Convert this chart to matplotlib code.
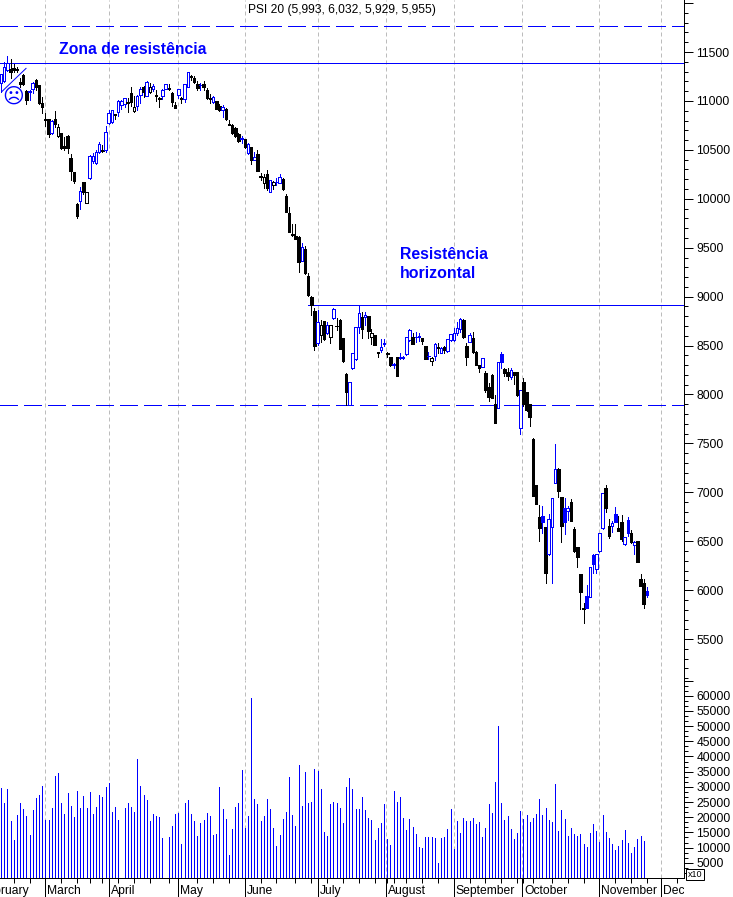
import matplotlib
matplotlib.use("Agg")
import matplotlib.pyplot as plt
from matplotlib.ticker import FixedLocator, NullFormatter

plt.rcParams["font.family"] = ["Liberation Sans", "DejaVu Sans"]

# candles
opens = [
    11186, 11207, 11316, 11322, 11333, 11322, 11196, 11264, 11104, 11094,
    11118, 11213, 11162, 10975, 10815, 10811, 10668, 10811, 10641, 10668,
    10539, 10641, 10420, 10273, 9946, 9980, 10167, 9960, 10208, 10389,
    10368, 10481, 10501, 10498, 10770, 10781, 10870, 10890, 10958, 10968,
    10992, 11081, 10893, 10951, 11060, 11146, 11054, 11095, 11122, 11058,
    11030, 11054, 11122, 11132, 11081, 10958, 11060, 11033, 11016, 11142,
    11251, 11238, 11173, 11160, 11169, 11115, 11030, 10985, 11000, 10951,
    10907, 10917, 10760, 10754, 10720, 10662, 10615, 10608, 10464, 10526,
    10396, 10458, 10230, 10158, 10253, 10073, 10137, 10168, 10165, 10206,
    10028, 9851, 9640, 9620, 9613, 9361, 9483, 9211, 9000, 8850,
    8529, 8607, 8747, 8624, 8590, 8784, 8703, 8760, 8573, 8209,
    7892, 8267, 8358, 8686, 8788, 8788, 8801, 8583, 8607, 8437,
    8454, 8518, 8424, 8379, 8300, 8379, 8369, 8370, 8410, 8556, 8583,
    8585, 8585, 8573, 8495, 8389, 8345, 8393, 8488, 8427, 8488, 8447,
    8556, 8556, 8624, 8672, 8760, 8495, 8539, 8580, 8437, 8301,
    8284, 8216, 8080, 8199, 7899, 7865, 8410, 8260, 8233, 8182,
    8226, 8226, 7654, 8131, 8022, 7899, 7545, 7074, 6751,
    6754, 6642, 6366, 6649, 7099, 7239, 6949, 6837, 6813, 6898,
    6622, 6438, 6162, 5815, 5941, 5934, 6360, 6213, 6397, 6639,
    7044, 6656, 6659, 6779, 6636, 6693, 6472, 6717, 6581, 6465,
    6503, 6111, 6070, 5993,
]
closes = [
    11275, 11343, 11384, 11299, 11316, 11320, 11169, 11169, 11009, 11104,
    11186, 11138, 10982, 10934, 10808, 10661, 10798, 10764, 10730, 10522,
    10515, 10515, 10287, 10184, 9823, 10075, 10072, 10069, 10437, 10437,
    10481, 10556, 10488, 10685, 10879, 10907, 10860, 11002, 11002, 11026,
    10975, 10985, 10934, 11054, 11122, 11088, 11197, 11142, 11156, 11050,
    11022, 11108, 11169, 11122, 10992, 10931, 11118, 11022, 11169, 11299,
    11241, 11197, 11128, 11163, 11142, 11033, 11023, 11040, 10921, 10907,
    10941, 10815, 10754, 10669, 10645, 10590, 10622, 10526, 10560, 10396,
    10424, 10287, 10220, 10219, 10107, 10192, 10168, 10175, 10219, 10100,
    9868, 9664, 9630, 9592, 9357, 9504, 9245, 9016, 8914, 8495,
    8737, 8706, 8563, 8709, 8709, 8873, 8697, 8464, 8341, 8028,
    8130, 8420, 8686, 8829, 8665, 8812, 8652, 8624, 8505, 8427,
    8490, 8522, 8414, 8301, 8310, 8192, 8379, 8382, 8583, 8658, 8519,
    8590, 8595, 8549, 8362, 8396, 8369, 8512, 8480, 8478, 8454, 8563,
    8614, 8624, 8675, 8767, 8590, 8379, 8607, 8437, 8301, 8267,
    8369, 8045, 7977, 7967, 7712, 8328, 8335, 8216, 8192, 8250,
    8199, 7994, 8042, 7899, 7841, 7773, 6965, 6884, 6631,
    6693, 6179, 6724, 6939, 7239, 7017, 6659, 6700, 6837, 6711,
    6404, 6343, 5985, 5808, 5821, 6234, 6268, 6366, 6581, 6990,
    6837, 6554, 6683, 6700, 6608, 6527, 6540, 6581, 6496, 6492,
    6291, 6043, 5862, 5955,
]
highs = [
    11275, 11401, 11459, 11425, 11377, 11343, 11230, 11271, 11111, 11111,
    11196, 11220, 11162, 11043, 10873, 10811, 10805, 10900, 10764, 10675,
    10627, 10648, 10457, 10273, 9960, 10116, 10167, 10072, 10447, 10464,
    10498, 10583, 10549, 10743, 10907, 10907, 10870, 11009, 11009, 11026,
    11026, 11139, 11054, 11060, 11142, 11156, 11203, 11183, 11176, 11108,
    11043, 11118, 11173, 11169, 11088, 10992, 11122, 11040, 11169, 11299,
    11265, 11255, 11203, 11180, 11203, 11128, 11067, 11047, 11000, 10965,
    10958, 10924, 10805, 10760, 10730, 10669, 10645, 10615, 10567, 10533,
    10478, 10499, 10267, 10253, 10294, 10196, 10178, 10209, 10253, 10216,
    10054, 9913, 9742, 9742, 9620, 9545, 9517, 9238, 9006, 8884,
    8863, 8761, 8750, 8743, 8709, 8880, 8778, 8770, 8580, 8215,
    8130, 8420, 8690, 8910, 8846, 8846, 8801, 8665, 8607, 8437,
    8563, 8570, 8430, 8386, 8318, 8386, 8420, 8390, 8590, 8665, 8624,
    8641, 8624, 8573, 8495, 8437, 8386, 8522, 8529, 8485, 8495, 8570,
    8620, 8675, 8743, 8778, 8770, 8522, 8624, 8635, 8444, 8301,
    8376, 8240, 8113, 8206, 7994, 8332, 8430, 8267, 8274, 8267,
    8233, 8233, 8042, 8172, 8030, 7899, 7552, 7080, 6870,
    6860, 6650, 6779, 6939, 7494, 7245, 6949, 6939, 6860, 6929,
    6642, 6445, 6162, 5872, 6053, 6240, 6366, 6370, 6585, 6995,
    7075, 6724, 6707, 6847, 6758, 6768, 6547, 6745, 6615, 6499,
    6503, 6162, 6111, 6032,
]
lows = [
    11094, 11196, 11309, 11230, 11299, 11299, 11138, 11165, 10968, 11009,
    11084, 11111, 10968, 10879, 10743, 10634, 10660, 10730, 10627, 10512,
    10498, 10471, 10191, 10157, 9806, 9891, 10048, 9953, 10205, 10368,
    10360, 10464, 10478, 10481, 10765, 10775, 10812, 10846, 10914, 10941,
    10883, 10951, 10890, 10907, 10982, 11043, 11054, 11081, 11101, 10999,
    10941, 11020, 11118, 11111, 10951, 10931, 11033, 10982, 10992, 11142,
    11210, 11180, 11111, 11111, 11111, 11020, 10982, 10975, 10917, 10897,
    10839, 10805, 10750, 10660, 10635, 10580, 10566, 10520, 10455, 10355,
    10393, 10287, 10192, 10107, 10090, 10070, 10097, 10141, 10158, 10090,
    9868, 9664, 9620, 9585, 9255, 9361, 9231, 9006, 8812, 8454,
    8505, 8539, 8555, 8617, 8529, 8770, 8658, 8464, 8331, 7890,
    7892, 8260, 8350, 8624, 8573, 8709, 8573, 8515, 8505, 8386,
    8430, 8500, 8386, 8295, 8267, 8192, 8358, 8362, 8400, 8550, 8512,
    8539, 8549, 8515, 8362, 8358, 8301, 8352, 8420, 8420, 8427, 8430,
    8550, 8550, 8607, 8641, 8580, 8301, 8532, 8420, 8301, 8226,
    8277, 8022, 7933, 7960, 7705, 7860, 8274, 8192, 8148, 8158,
    8107, 7988, 7599, 7885, 7835, 7677, 6960, 6880, 6502,
    6587, 6077, 6360, 6077, 7092, 6949, 6496, 6574, 6717, 6711,
    6394, 6233, 5808, 5668, 5821, 5930, 6172, 6172, 6390, 6630,
    6802, 6530, 6598, 6700, 6608, 6503, 6465, 6554, 6486, 6370,
    6291, 6043, 5821, 5929,
]
candle_colors = (
    "bbbkkkkkkb" "bkkkkkbkkk" "kkkkkbkkbb" "bbkbbbkbbb" "kkkbbkbkbk"
    "kbbkkkbkbb" "kkkbkkkbkk" "bkkkkkbkbk" "bkkkkbkbbk" "kkkkkbkkkk"
    "bkkbkbkkkk" "bbbbkbkkkk" "bbkkbkbbbbk" "bbkkbkbkbkb" "bbbbkkbkkk"
    "bkkkkbbkkb" "kkbkkkkkk" "bkbbbkkbbk" "kkkkbbbbbb" "kkbbkkbbkb"
    "kkkb"
)

volumes = [
    29700, 24700, 29300, 18800, 12600, 20800, 24700, 22800, 20500, 14200,
    22400, 26400, 27400, 30300, 19200, 19200, 23100, 33600, 34600, 24700,
    21100, 28000, 23800, 20100, 28700, 23100, 27000, 23100, 28400, 21100,
    23400, 27400, 26700, 30000, 31300, 21800, 23400, 19200, 0, 23100,
    24700, 23400, 21800, 39200, 30300, 27400, 25700, 18800, 21100, 20500,
    20100, 13200, 0, 13600, 17200, 21100, 21500, 11300, 24700, 25700,
    21100, 18800, 13900, 18200, 19200, 21500, 20500, 14200, 14600, 30000,
    22800, 19500, 7700, 16200, 23400, 24700, 35600, 16500, 20500, 59200,
    26100, 24400, 18800, 20500, 26100, 22800, 16500, 10600, 14200, 19500,
    21800, 33300, 20800, 17200, 37200, 23800, 34900, 24700, 25100, 35900,
    35300, 29300, 15200, 13900, 24400, 25100, 24700, 23100, 18200, 30000,
    33000, 29300, 22800, 22800, 26700, 22400, 19800,
    19200, 12600, 16500, 18200, 24400, 12900, 11000, 28700, 25100, 26700,
    19800, 15900, 19500, 16900, 14600, 10300, 10000, 13600, 13600, 13600,
    13200, 5000, 13200, 13600, 16200, 22800, 9600, 18800, 14900, 19800,
    18800, 18800, 19800, 17800, 18500, 13600, 16500, 24400, 21500, 31600,
    50000, 24700, 19200, 20500, 16200, 12900, 14900, 22100, 19500, 20800,
    18500, 19800, 21100, 26100, 20800, 23100, 19200, 18500, 31000, 15500,
    22400, 19500, 13900, 16500, 14600, 13900, 14600, 11300, 10300, 14900,
    17800, 15500, 11900, 20800, 15200, 13200, 11300, 9300, 10600, 12600,
    15900, 11600, 8300, 10300, 12900, 13900, 12300,
]

month_names = ["February", "March", "April", "May", "June", "July", "August",
               "September", "October", "November", "December"]
month_starts = [-7.2, 14, 34, 56, 77, 100, 121.7, 143, 164.6, 189, 208.5]
week_ticks = [4, 9, 14, 19, 24, 28, 32, 37, 42, 47, 53, 56, 62, 67, 72, 77, 82, 87,
              93, 98, 103, 108, 113, 118, 122, 124, 128, 133, 138, 143, 148, 153,
              158, 163, 165, 168, 174, 179, 184, 189, 194, 199, 204, 208.5, 213.5]

price_labels = list(range(5500, 12000, 500))
volume_labels = list(range(5000, 65000, 5000))

upper_dash = 11766
resistance_zone = 11385
resistance = 8911
support = 7889
trend_x = [0.2, 7.9]
trend_y = [11094, 11333]

BLUE = "#0000ff"
PX = 0.72  # one pixel at dpi 100

W, H = 733, 897
fig = plt.figure(figsize=(W / 100, H / 100), dpi=100, facecolor="white")


def panel(top, bottom):
    ax = fig.add_axes([0, 1 - bottom / H, 684 / W, (bottom - top) / H])
    ax.set_xlim(-0.32, 215.7)
    for side in ["top", "left", "bottom"]:
        ax.spines[side].set_visible(False)
    ax.spines["right"].set_linewidth(PX)
    ax.yaxis.tick_right()
    ax.tick_params(axis="y", which="major", length=6.5, width=PX, labelsize=8.7, pad=2.5)
    ax.tick_params(axis="y", which="minor", length=2.9, width=PX)
    ax.set_xticks([])
    for m in month_starts[1:]:
        ax.axvline(m, color="#bcbcbc", lw=PX, ls=(0, (4, 3)), zorder=0)
    return ax


ax = panel(0, 680)
ax.set_ylim(5082, 12032)
ax.set_yticks(price_labels + [12000])
ax.set_yticklabels([str(v) for v in price_labels] + [""])
ax.yaxis.set_minor_locator(FixedLocator(list(range(5100, 12100, 100))))

dash = (0, (18, 6))
ax.axhline(upper_dash, color=BLUE, lw=PX, ls=dash, antialiased=False, zorder=1)
ax.axhline(resistance_zone, color=BLUE, lw=PX, antialiased=False, zorder=1)
ax.axhline(support, color=BLUE, lw=PX, ls=dash, antialiased=False, zorder=1)
ax.plot([97, 216], [resistance, resistance], color=BLUE, lw=PX, antialiased=False, zorder=1)
ax.plot(trend_x, trend_y, color=BLUE, lw=PX, zorder=1)

xs = list(range(len(closes)))
wick_colors = [BLUE if c == "b" else "black" for c in candle_colors]
ax.vlines(xs, lows, highs, colors=wick_colors, lw=PX, antialiased=False, zorder=2)
faces = [wick_colors[i] if closes[i] < opens[i] else "white" for i in xs]
ax.bar(xs, [c - o for o, c in zip(opens, closes)], bottom=opens, width=0.82,
       color=faces, edgecolor=wick_colors, linewidth=PX, antialiased=False, zorder=3)

ax.text(3.7, 11045, "\u2639", color=BLUE, fontsize=15, family="DejaVu Sans",
        ha="center", va="center", zorder=4)

vol = panel(680, 878)
vol.set_ylim(0, 65170)
vol.set_yticks(volume_labels + [65000])
vol.set_yticklabels([str(v) for v in volume_labels] + [""])
vol.yaxis.set_minor_locator(FixedLocator([v * 5000 / 3 for v in range(1, 40)]))
vol.vlines(range(len(volumes)), 0, volumes, colors=BLUE, lw=PX, antialiased=False, zorder=2)
vol.spines["bottom"].set_visible(True)
vol.spines["bottom"].set_linewidth(PX)
vol.set_xticks(week_ticks)
vol.xaxis.set_major_formatter(NullFormatter())
vol.tick_params(axis="x", length=3.6, width=PX)

strip = fig.add_axes([0, 0, 684 / W, (H - 878) / H])
strip.set_xlim(-0.32, 215.7)
strip.set_ylim(0, 1)
strip.axis("off")
strip.vlines(month_starts[1:], 0, 1, colors="black", lw=PX, antialiased=False)
for name, m in zip(month_names, month_starts):
    strip.text(m + 0.6, 0.3, name, fontsize=8.7, va="center", ha="left", clip_on=True)

fig.text(341.5 / W, 1 - 10 / H, "PSI 20 (5,993, 6,032, 5,929, 5,955)", fontsize=8.65,
         ha="center", va="center")
fig.text(59 / W, 1 - 49 / H, "Zona de resist\u00eancia", color=BLUE, fontsize=11.3,
         fontweight="bold", ha="left", va="center")
fig.text(400 / W, 1 - 264 / H, "Resist\u00eancia\nhorizontal", color=BLUE, fontsize=11.4,
         fontweight="bold", ha="left", va="center", linespacing=1.4)
fig.text(695 / W, 1 - 874.5 / H, "x10", fontsize=6.5, ha="center", va="center",
         bbox=dict(boxstyle="square,pad=0.15", fc="white", ec="black", lw=PX))

fig.savefig("out.png", dpi=100, facecolor="white")
